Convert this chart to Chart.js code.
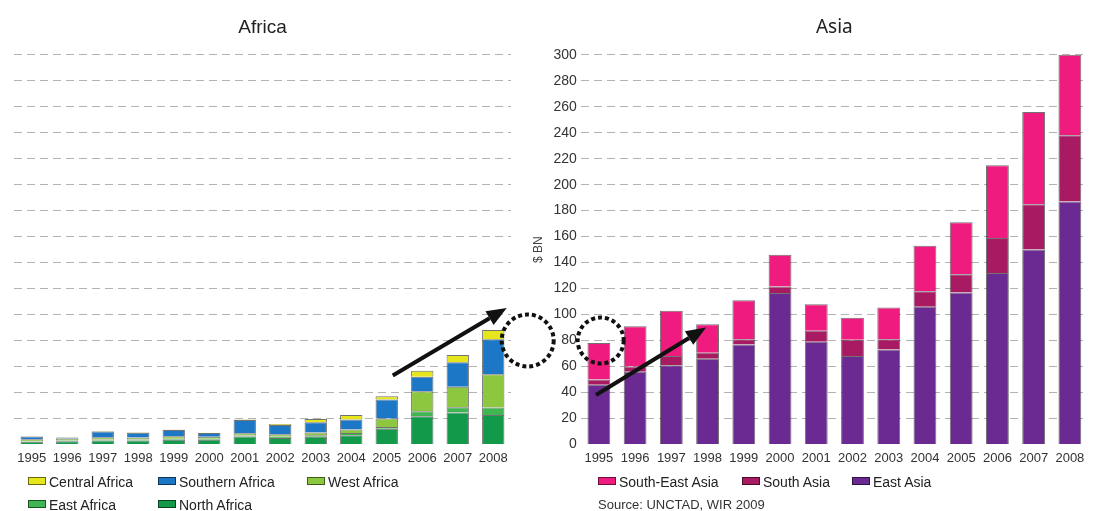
<!DOCTYPE html>
<html>
<head>
<meta charset="utf-8">
<script src="https://cdn.jsdelivr.net/npm/chart.js@4.4.1/dist/chart.umd.min.js"></script>
<style>
  body { margin: 0; background: #fff; font-family: 'Liberation Sans', Arial, sans-serif; }
  #wrap { position: relative; width: 1107px; height: 511px; overflow: hidden; }
  canvas { position: absolute; top: 0; }
  #africaChart { left: 0; }
  #asiaChart { left: 500px; }
  .legend-item { position: absolute; font-size: 14px; line-height: 16px; color: #222; white-space: nowrap; }
  .legend-item .box { display: inline-block; width: 16px; height: 6px; border: 1px solid rgba(0,0,0,0.55); margin-right: 3px; vertical-align: 2px; }
  .source { position: absolute; left: 598px; top: 497px; font-size: 13px; color: #333; }
</style>
</head>
<body>
<div id="wrap">
  <canvas id="africaChart" width="560" height="511"></canvas>
  <canvas id="asiaChart" width="607" height="511"></canvas>
  <div id="legends"></div>
  <div class="source">Source: UNCTAD, WIR 2009</div>
</div>

<script>
// FDI inflows, $ BN
var years = ['1995','1996','1997','1998','1999','2000','2001','2002','2003','2004','2005','2006','2007','2008'];

// Africa, stacked bottom to top
var northAfrica    = [2, 2.5, 3, 3, 3.5, 3.5, 6, 5, 5.8, 7, 12, 21.7, 24.5, 22.7];
var eastAfrica     = [0.5, 0.5, 0.8, 0.8, 0.8, 0.8, 0.8, 1, 1.2, 1.8, 1.4, 3.8, 4.1, 5.7];
var westAfrica     = [1.5, 1.5, 1.7, 1.5, 2, 1.5, 1.7, 1.8, 2.1, 2.6, 6.5, 15.5, 15.7, 25.6];
var southernAfrica = [2, 0.8, 4.5, 3.7, 4.7, 3, 10.3, 7.2, 8, 7.7, 14.6, 11, 18.9, 27];
var centralAfrica  = [0.3, 0.2, 0.3, 0.3, 0.3, 0.2, 0.3, 0.7, 2.5, 3.6, 2.5, 4.7, 5.6, 7];

// Asia, stacked bottom to top
var eastAsia      = [46, 56, 61, 66, 77, 116.5, 79, 68, 73, 106, 117, 132, 150, 187];
var southAsia     = [4, 4, 7, 4.5, 4, 5, 8.5, 12.5, 8, 12, 14, 27, 35, 51];
var southEastAsia = [28, 31, 35, 22, 30, 24.5, 20.5, 17, 24.5, 35, 40, 56, 71, 62];

var yMax = 300, yStep = 20;

var africaSeries = [
  { label: 'North Africa',    data: northAfrica,    color: '#12994a' },
  { label: 'East Africa',     data: eastAfrica,     color: '#3fb650' },
  { label: 'West Africa',     data: westAfrica,     color: '#8dc63f' },
  { label: 'Southern Africa', data: southernAfrica, color: '#1c78c6' },
  { label: 'Central Africa',  data: centralAfrica,  color: '#e6e61c' }
];
var asiaSeries = [
  { label: 'East Asia',       data: eastAsia,      color: '#6a2a92' },
  { label: 'South Asia',      data: southAsia,     color: '#a81a62' },
  { label: 'South-East Asia', data: southEastAsia, color: '#ef1b7e' }
];

function toDatasets(series) {
  return series.map(function (s) {
    return {
      label: s.label,
      data: s.data,
      backgroundColor: s.color,
      borderColor: 'rgba(20,20,20,0.6)',
      borderWidth: 1,
      categoryPercentage: 1,
      barPercentage: 0.63
    };
  });
}

// arrows and dotted rings, placed in data coordinates
function drawArrow(ctx, x1, y1, x2, y2) {
  var ang = Math.atan2(y2 - y1, x2 - x1);
  var head = 20, half = 8;
  var bx = x2 - head * Math.cos(ang), by = y2 - head * Math.sin(ang);
  ctx.save();
  ctx.strokeStyle = '#111';
  ctx.fillStyle = '#111';
  ctx.lineWidth = 4;
  ctx.beginPath();
  ctx.moveTo(x1, y1);
  ctx.lineTo(bx, by);
  ctx.stroke();
  ctx.beginPath();
  ctx.moveTo(x2, y2);
  ctx.lineTo(bx + half * Math.sin(ang), by - half * Math.cos(ang));
  ctx.lineTo(bx - half * Math.sin(ang), by + half * Math.cos(ang));
  ctx.closePath();
  ctx.fill();
  ctx.restore();
}
function drawRing(ctx, cx, cy, r) {
  ctx.save();
  ctx.strokeStyle = '#111';
  ctx.lineWidth = 4;
  ctx.setLineDash([4, 3]);
  ctx.beginPath();
  ctx.arc(cx, cy, r, 0, Math.PI * 2);
  ctx.stroke();
  ctx.restore();
}
var callouts = {
  id: 'callouts',
  afterDraw: function (chart, args, opts) {
    var x = chart.scales.x, y = chart.scales.y, ctx = chart.ctx;
    if (opts.ring) {
      var r = opts.ring;
      drawRing(ctx, x.getPixelForValue(r[0]), y.getPixelForValue(r[1]), r[2]);
    }
    if (opts.arrow) {
      var a = opts.arrow;
      drawArrow(ctx, x.getPixelForValue(a[0]), y.getPixelForValue(a[1]),
                     x.getPixelForValue(a[2]), y.getPixelForValue(a[3]));
    }
  }
};

function gridColor(c) { return c.tick && c.tick.value === 0 ? 'rgba(0,0,0,0)' : '#b3b3b3'; }

function makeOptions(title, showAxis, pad, notes) {
  return {
    responsive: false,
    animation: false,
    layout: { padding: pad },
    plugins: {
      legend: { display: false },
      tooltip: { enabled: false },
      title: {
        display: true, text: title, color: '#222', fullSize: false,
        font: { family: showAxis ? 'Noto Sans' : 'Liberation Sans', size: 19, weight: 'normal' },
        padding: { top: 16, bottom: 16 }
      },
      callouts: notes
    },
    scales: {
      x: {
        stacked: true,
        grid: { display: false, drawTicks: false },
        border: { display: false },
        ticks: { color: '#333', font: { family: 'Liberation Sans', size: 13 }, padding: 6, maxRotation: 0, autoSkip: false }
      },
      y: {
        stacked: true, min: 0, max: yMax,
        grid: { color: gridColor, lineWidth: 1, drawTicks: false },
        border: { display: false, dash: [8, 5] },
        ticks: { display: showAxis, stepSize: yStep, color: '#333', font: { family: 'Liberation Sans', size: 14 }, padding: 4 },
        title: { display: showAxis, text: '$ BN', color: '#444', font: { family: 'Liberation Sans', size: 12 } }
      }
    }
  };
}

new Chart(document.getElementById('africaChart'), {
  type: 'bar',
  data: { labels: years, datasets: toDatasets(africaSeries) },
  options: makeOptions('Africa', false, { left: 14, right: 49, bottom: 39 },
    { ring: [13.97, 80, 26], arrow: [10.17, 53, 13.38, 105] }),
  plugins: [callouts]
});

new Chart(document.getElementById('asiaChart'), {
  type: 'bar',
  data: { labels: years, datasets: toDatasets(asiaSeries) },
  options: makeOptions('Asia', true, { left: 27, right: 19, bottom: 39 },
    { ring: [0.05, 80, 23], arrow: [-0.08, 38, 2.96, 90] }),
  plugins: [callouts]
});

// legends, listed top layer first
var legendRows = [
  { series: africaSeries.slice().reverse(), spots: [[28, 474], [158, 474], [307, 474], [28, 497], [158, 497]] },
  { series: asiaSeries.slice().reverse(),   spots: [[598, 474], [742, 474], [852, 474]] }
];
var holder = document.getElementById('legends');
legendRows.forEach(function (row) {
  row.series.forEach(function (s, i) {
    var el = document.createElement('div');
    el.className = 'legend-item';
    el.style.left = row.spots[i][0] + 'px';
    el.style.top = row.spots[i][1] + 'px';
    el.innerHTML = '<span class="box" style="background:' + s.color + '"></span>' + s.label;
    holder.appendChild(el);
  });
});
</script>
</body>
</html>
